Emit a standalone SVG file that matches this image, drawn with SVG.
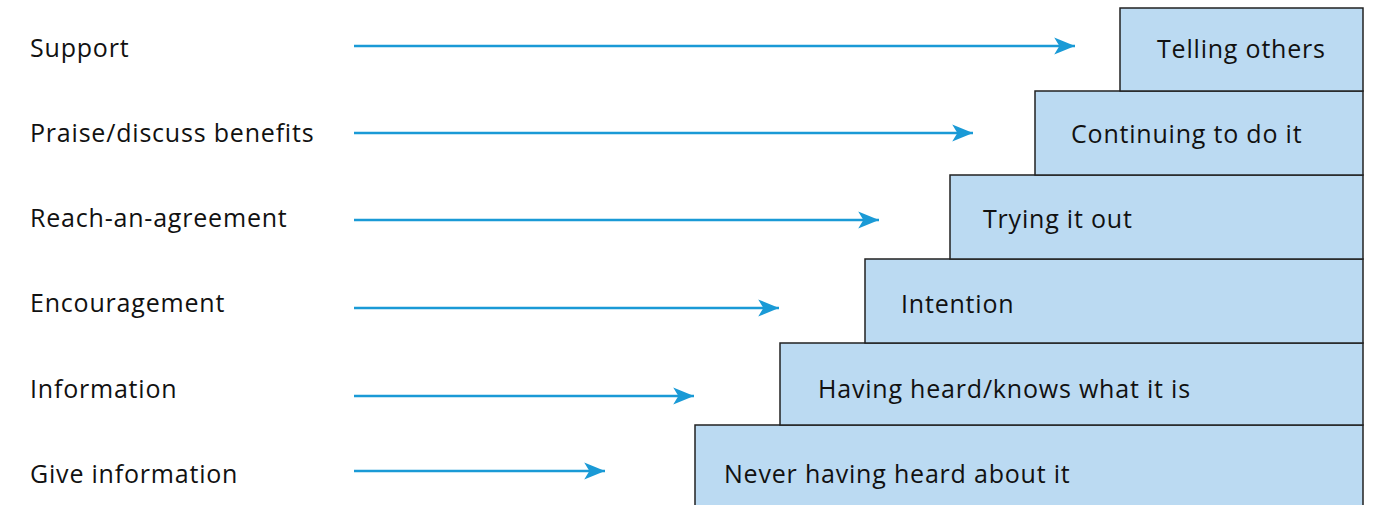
<svg xmlns="http://www.w3.org/2000/svg" width="1374" height="505" viewBox="0 0 1374 505">
<style>
  text { font-family: "Open Sans", "Liberation Sans", sans-serif; font-size: 25px; letter-spacing: 0.8px; fill: #111; }
  .box { fill: #bbdaf2; stroke: #222; stroke-width: 1.5; }
  .arr { stroke: #1a9ad6; stroke-width: 2.6; fill: none; marker-end: url(#ah); }
</style>
<defs>
  <marker id="ah" markerWidth="8" markerHeight="6" refX="8" refY="3" orient="auto" markerUnits="strokeWidth" overflow="visible">
    <path d="M0,-0.3 L8,3 L0,6.3 L2,3 Z" fill="#1a9ad6"/>
  </marker>
</defs>
<g id="labels">
  <text id="l1" x="30" y="57">Support</text>
  <text id="l2" x="30" y="142">Praise/discuss benefits</text>
  <text id="l3" x="30" y="227">Reach-an-agreement</text>
  <text id="l4" x="30" y="312">Encouragement</text>
  <text id="l5" x="30" y="398">Information</text>
  <text id="l6" x="30" y="483">Give information</text>
</g>
<g id="connectors">
  <line class="arr" x1="354" y1="46" x2="1075" y2="46"/>
  <line class="arr" x1="354" y1="133" x2="973" y2="133"/>
  <line class="arr" x1="354" y1="220" x2="879" y2="220"/>
  <line class="arr" x1="354" y1="308" x2="779" y2="308"/>
  <line class="arr" x1="354" y1="396" x2="694" y2="396"/>
  <line class="arr" x1="354" y1="471" x2="605" y2="471"/>
</g>
<g id="n6"><rect class="box" x="695" y="425" width="668" height="90"/><text x="724" y="483">Never having heard about it</text></g>
<g id="n5"><rect class="box" x="780" y="343" width="583" height="82"/><text x="818" y="398">Having heard/knows what it is</text></g>
<g id="n4"><rect class="box" x="865" y="259" width="498" height="84"/><text x="901" y="313">Intention</text></g>
<g id="n3"><rect class="box" x="950" y="175" width="413" height="84"/><text x="983" y="228">Trying it out</text></g>
<g id="n2"><rect class="box" x="1035" y="91" width="328" height="84"/><text x="1071" y="143">Continuing to do it</text></g>
<g id="n1"><rect class="box" x="1120" y="8" width="243" height="83"/><text x="1157" y="58">Telling others</text></g>
</svg>
